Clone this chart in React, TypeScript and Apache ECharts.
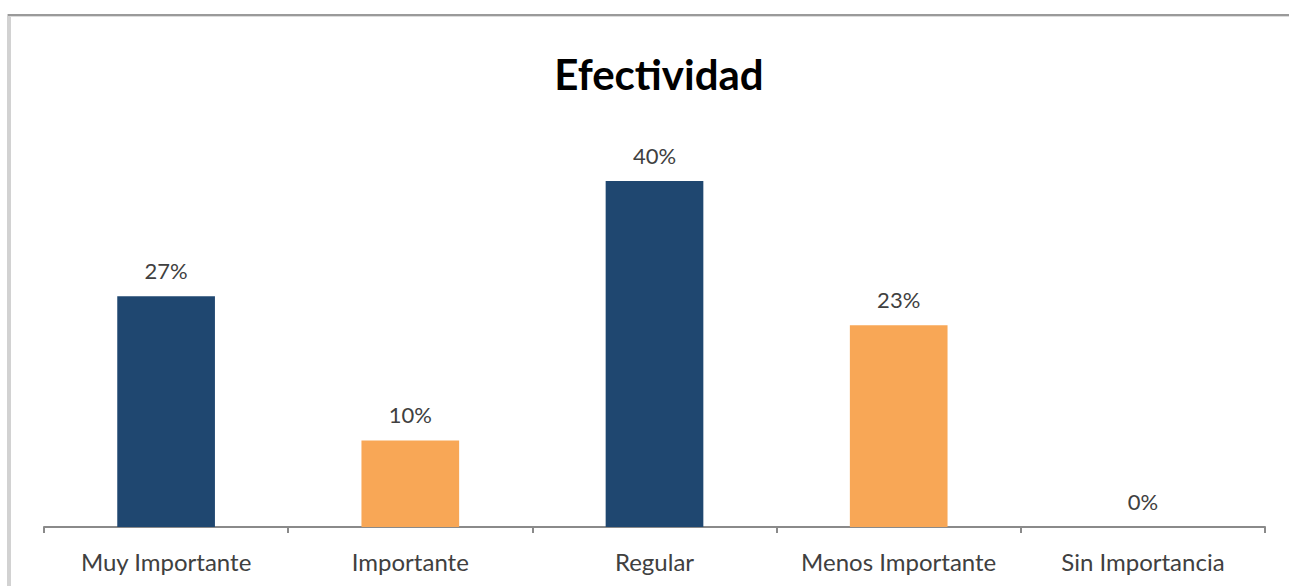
import React, { useEffect, useRef } from "react";
import * as echarts from "echarts";

const titleText = "Efectividad";
const categories = ["Muy Importante", "Importante", "Regular", "Menos Importante", "Sin Importancia"];
const values = [26.67, 10, 40, 23.33, 0];
const labels = ["27%", "10%", "40%", "23%", "0%"];
const barColors = ["#1F4770", "#F8A756", "#1F4770", "#F8A756", "#1F4770"];

const FONT = "Lato, 'Open Sans', sans-serif";

export default function App() {
  const ref = useRef<HTMLDivElement>(null);
  useEffect(() => {
    if (!ref.current) return;
    const chart = echarts.init(ref.current, undefined, { renderer: "svg" });
    chart.setOption({
      animation: false,
      backgroundColor: "#ffffff",
      title: {
        text: titleText,
        left: 654,
        top: 48,
        textAlign: "center",
        textStyle: { fontFamily: FONT, fontSize: 42, fontWeight: "bold", color: "#000000" },
      },
      graphic: [
        { type: "rect", shape: { x: 7, y: 14, width: 4, height: 580 }, style: { fill: "#d2d2d2" }, silent: true },
        { type: "rect", shape: { x: 8, y: 14, width: 1290, height: 2 }, style: { fill: "#9a9a9a" }, silent: true },
        { type: "rect", shape: { x: 10, y: 16, width: 1290, height: 1 }, style: { fill: "#dcdcdc" }, silent: true },
      ],
      grid: { left: 44, right: 24, top: 137.75, bottom: 59, containLabel: false },
      xAxis: {
        type: "category",
        data: categories,
        axisLine: { show: true, lineStyle: { color: "#8a8a8a", width: 2 } },
        axisTick: { show: true, alignWithLabel: false, length: 6, lineStyle: { color: "#8a8a8a", width: 2 } },
        axisLabel: { color: "#404040", fontFamily: FONT, fontSize: 24, margin: 22, interval: 0 },
      },
      yAxis: {
        type: "value",
        min: 0,
        max: 45,
        show: false,
        splitLine: { show: false },
      },
      series: [
        {
          type: "bar",
          barCategoryGap: "60%",
          data: values.map((v, i) => ({ value: v, itemStyle: { color: barColors[i] } })),
          label: {
            show: true,
            position: "top",
            distance: 15,
            color: "#404040",
            fontFamily: FONT,
            fontSize: 22,
            formatter: (p: any) => labels[p.dataIndex],
          },
        },
      ],
    });
    return () => chart.dispose();
  }, []);
  return (
    <div
      ref={ref}
      style={{ position: "fixed", left: 0, top: 0, width: 1289, height: 586 }}
    />
  );
}
